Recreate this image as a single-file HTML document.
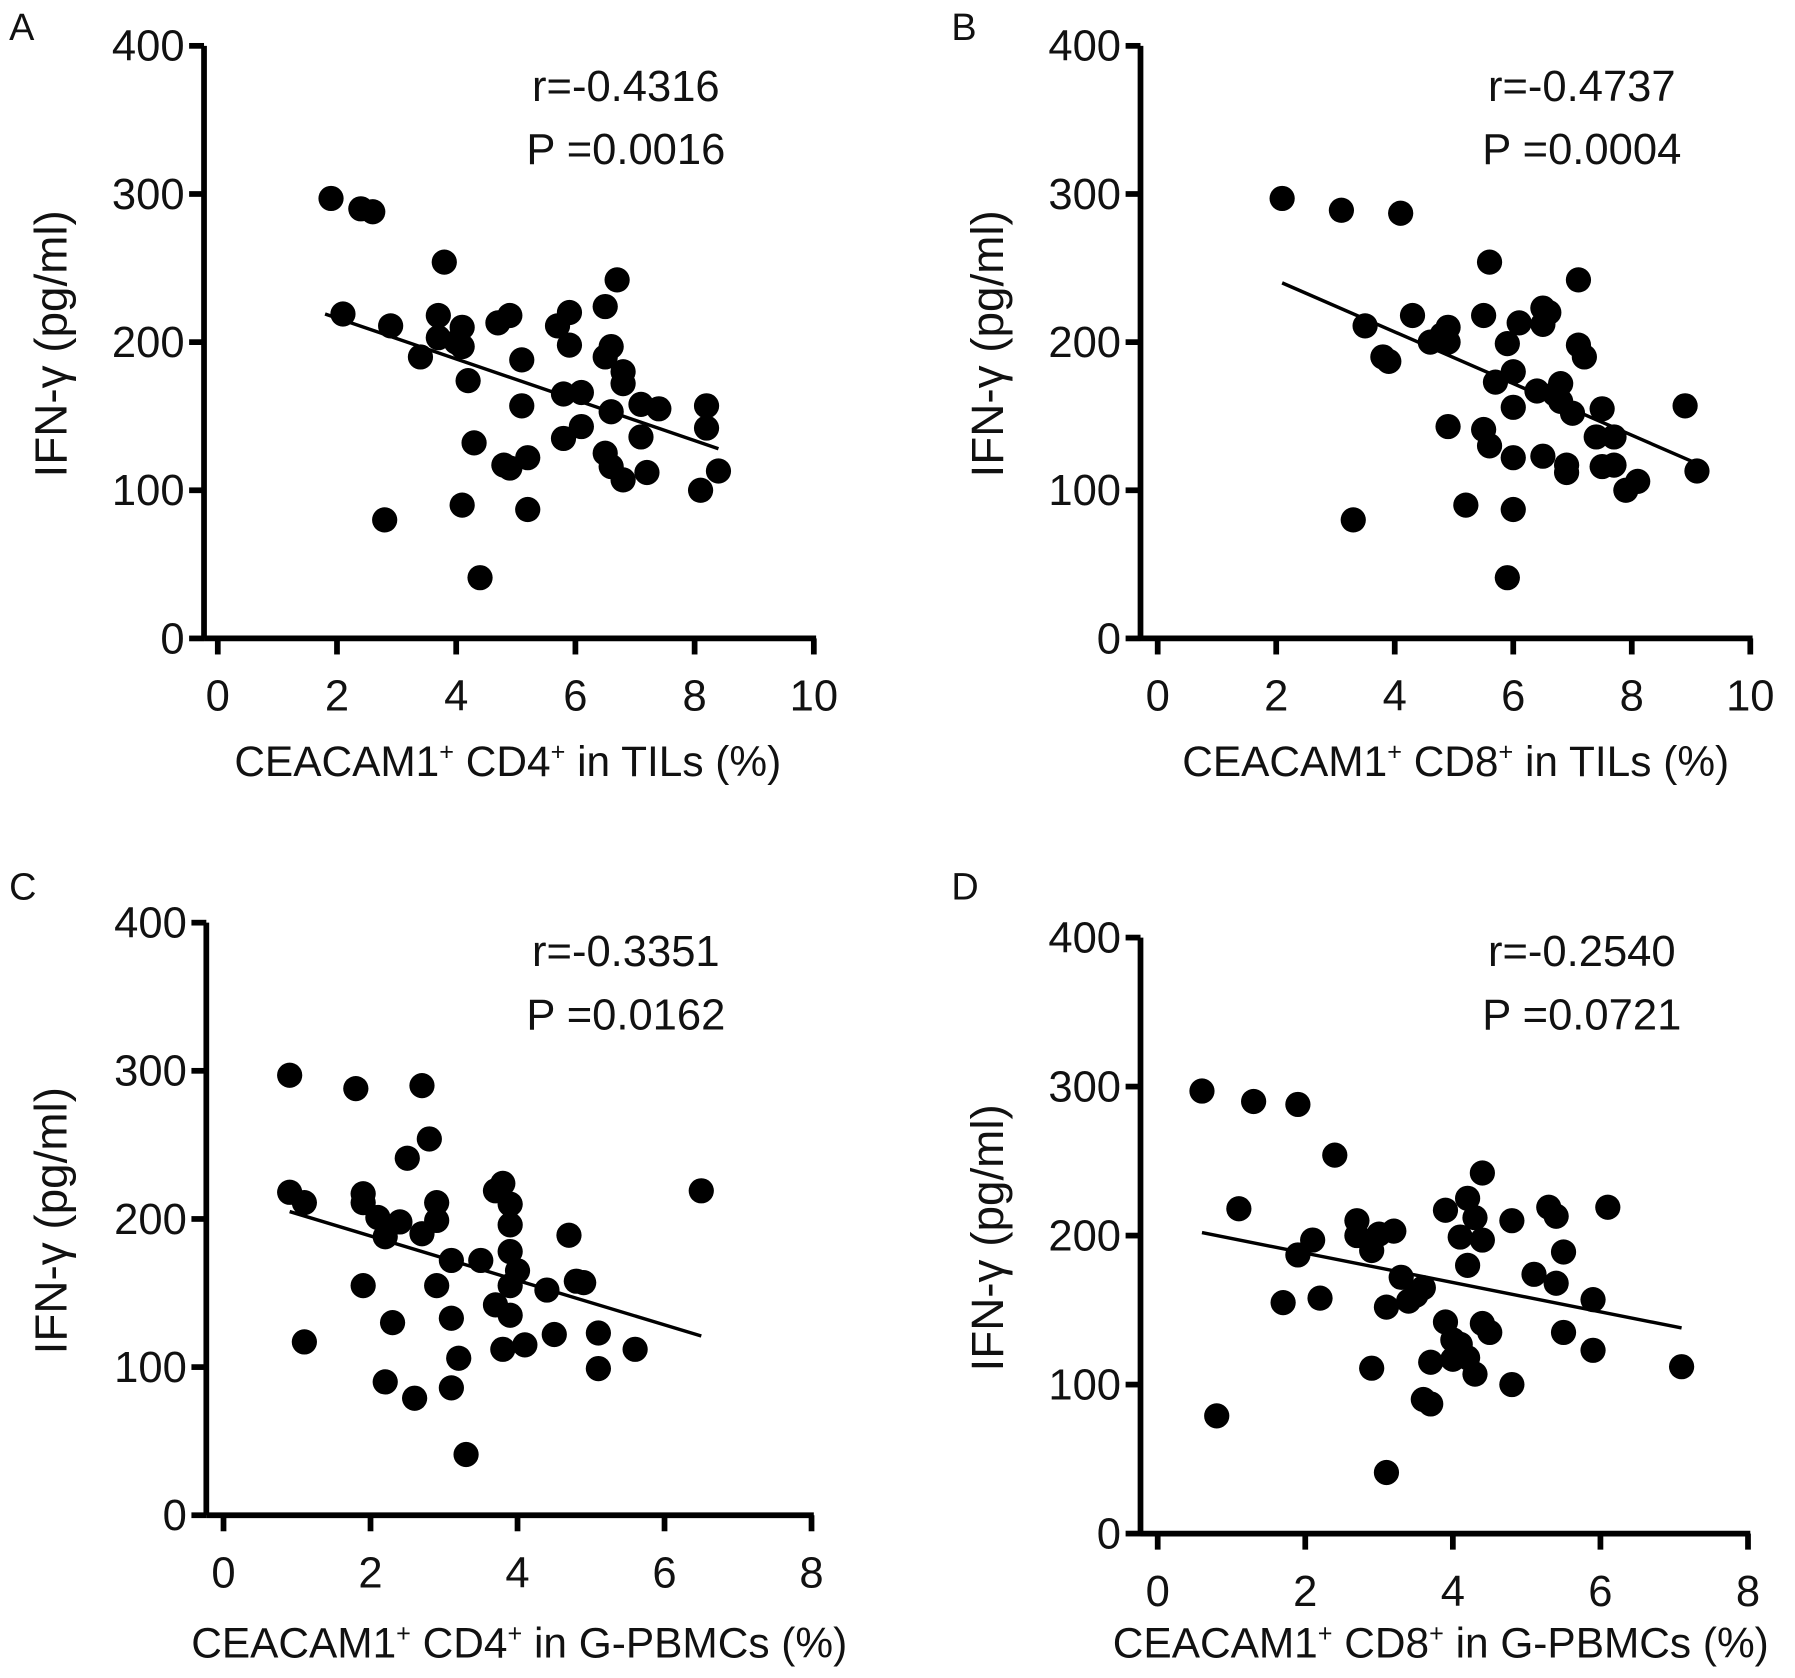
<!DOCTYPE html>
<html><head><meta charset="utf-8"><style>html,body{margin:0;padding:0;background:#fff}svg{display:block}text{font-family:"Liberation Sans",sans-serif;fill:#111}</style></head>
<body>
<svg id="fig" width="1795" height="1678" viewBox="0 0 1566 1464" preserveAspectRatio="none" xmlns="http://www.w3.org/2000/svg"></svg>
<script>
const yTicks=[0,100,200,300,400];
const xTicksTIL=[0,2,4,6,8,10];
const xTicksPB=[0,2,4,6,8];
const aX=[1.9,2.4,2.6,2.1,2.9,3.4,3.7,3.7,3.8,4.0,4.1,4.1,4.2,4.3,4.1,2.8,4.4,4.7,4.9,5.1,5.1,4.8,4.9,5.2,5.2,5.7,5.9,5.9,5.8,6.1,6.1,5.8,6.5,6.5,6.6,6.7,6.8,6.8,6.6,6.5,6.6,6.8,7.1,7.4,7.1,7.2,8.2,8.2,8.1,8.4];
const aY=[297,290,288,219,211,190,218,203,254,200,210,197,174,132,90,80,41,213,218,188,157,117,115,122,87,211,220,198,165,166,143,135,224,190,197,242,180,172,153,125,116,107,158,155,136,112,157,142,100,113];
const aLine=[[1.8,219],[8.4,128]];
const bX=[2.1,3.1,4.1,3.5,3.8,3.9,4.3,4.6,4.8,4.9,4.9,4.9,5.2,5.5,5.6,5.5,5.7,5.6,3.3,5.9,6.0,6.0,6.1,6.0,6.0,5.9,6.5,6.6,6.5,6.4,6.5,6.8,6.7,6.8,6.9,6.9,7.0,7.1,7.1,7.2,7.5,7.4,7.5,7.7,7.7,7.9,8.1,8.9,9.1];
const bY=[297,289,287,211,190,187,218,200,205,210,200,143,90,218,254,141,173,130,80,199,180,156,213,122,87,41,223,220,212,167,123,172,165,160,117,112,152,242,198,190,155,136,116,136,117,100,106,157,113];
const bLine=[[2.1,240],[9.1,118]];
const cX=[0.9,0.9,1.1,1.1,1.8,1.9,1.9,1.9,2.1,2.2,2.2,2.3,2.4,2.5,2.6,2.7,2.7,2.8,2.9,2.9,2.9,3.1,3.1,3.1,3.2,3.3,3.5,3.7,3.7,3.8,3.8,3.9,3.9,3.9,3.9,3.9,4.0,4.1,4.4,4.5,4.7,4.8,4.9,5.1,5.1,5.6,6.5];
const cY=[297,218,211,117,288,217,211,155,201,188,90,130,198,241,79,290,190,254,211,199,155,172,133,86,106,41,172,219,142,224,112,210,196,178,155,135,165,115,152,122,189,158,157,123,99,112,219];
const cLine=[[0.9,205],[6.5,121]];
const dX=[0.6,0.8,1.1,1.3,1.7,1.9,1.9,2.1,2.2,2.4,2.7,2.7,2.9,2.9,3.0,3.1,3.2,3.3,3.4,3.5,3.6,3.6,3.7,3.7,3.1,3.9,3.9,4.0,4.0,4.1,4.1,4.2,4.2,4.2,4.3,4.3,4.4,4.4,4.4,4.5,4.8,4.8,5.1,5.3,5.4,5.4,5.5,5.5,5.9,5.9,6.1,7.1];
const dY=[297,79,218,290,155,288,187,197,158,254,210,200,190,111,201,152,203,172,156,160,165,90,87,115,41,217,142,130,117,199,127,225,180,118,212,107,242,197,141,135,210,100,174,219,213,168,189,135,157,123,219,112];
const dLine=[[0.6,202],[7.1,138]];

const svg=document.getElementById('fig');
const NS='http://www.w3.org/2000/svg';
function mk(tag,attrs,parent){const e=document.createElementNS(NS,tag);for(const k in attrs)e.setAttribute(k,attrs[k]);parent.appendChild(e);return e;}

const panels=[
 {id:'a',letter:'A',lx:8,ly:35,ax:178,x0:190,x1:710,xmax:10,y0:557,y1:40,xt:xTicksTIL,X:aX,Y:aY,L:aLine,r:'r=-0.4316',p:'P =0.0016',tx:546,ty:75,title:['CEACAM1','+',' CD4','+',' in TILs (%)'],ttx:443,tty:677,ytx:45,yty:300},
 {id:'b',letter:'B',lx:830,ly:35,ax:995,x0:1010,x1:1527,xmax:10,y0:557,y1:40,xt:xTicksTIL,X:bX,Y:bY,L:bLine,r:'r=-0.4737',p:'P =0.0004',tx:1380,ty:75,title:['CEACAM1','+',' CD8','+',' in TILs (%)'],ttx:1270,tty:677,ytx:862,yty:300},
 {id:'c',letter:'C',lx:8,ly:785,ax:180,x0:195,x1:708,xmax:8,y0:1322,y1:805,xt:xTicksPB,X:cX,Y:cY,L:cLine,r:'r=-0.3351',p:'P =0.0162',tx:546,ty:830,title:['CEACAM1','+',' CD4','+',' in G-PBMCs (%)'],ttx:453,tty:1446,ytx:45,yty:1065},
 {id:'d',letter:'D',lx:830,ly:785,ax:995,x0:1010,x1:1525,xmax:8,y0:1338,y1:818,xt:xTicksPB,X:dX,Y:dY,L:dLine,r:'r=-0.2540',p:'P =0.0721',tx:1380,ty:830,title:['CEACAM1','+',' CD8','+',' in G-PBMCs (%)'],ttx:1257,tty:1446,ytx:862,yty:1080}
];

panels.forEach(P=>{
 const g=mk('g',{},svg);
 
 
 const sx=v=>P.x0+(P.x1-P.x0)*v/P.xmax;
 const sy=v=>P.y0+(P.y1-P.y0)*v/400;
 const lt=mk('text',{x:P.lx,y:P.ly,'font-size':33},g);lt.textContent=P.letter;
 
 const ya=mk('line',{x1:P.ax,y1:P.y1,x2:P.ax,y2:P.y0,stroke:'#000','stroke-width':5},g);
 
 const xa=mk('line',{x1:P.ax,y1:P.y0,x2:P.x1+2,y2:P.y0,stroke:'#000','stroke-width':5},g);
 
 yTicks.forEach(t=>{
  mk('line',{x1:P.ax-13,y1:sy(t),x2:P.ax,y2:sy(t),stroke:'#000','stroke-width':5},g);
  const tx=mk('text',{x:P.ax-17,y:sy(t)+13,'font-size':38,'text-anchor':'end'},g);tx.textContent=t;
  
 });
 P.xt.forEach(t=>{
  mk('line',{x1:sx(t),y1:P.y0,x2:sx(t),y2:P.y0+14,stroke:'#000','stroke-width':5},g);
  const tx=mk('text',{x:sx(t),y:P.y0+63,'font-size':38,'text-anchor':'middle'},g);tx.textContent=t;
  
 });
 const yt=mk('text',{x:0,y:0,'font-size':40,'text-anchor':'middle',transform:`translate(${P.ytx+13},${P.yty}) rotate(-90)`},g);
 yt.textContent='IFN-γ (pg/ml)';
 
 const xt=mk('text',{x:P.ttx,y:P.tty,'font-size':37,'text-anchor':'middle'},g);
 
 P.title.forEach((s,i)=>{const ts=mk('tspan',{},xt);if(s==='+'){ts.setAttribute('font-size',22);ts.setAttribute('dy',-14);}else if(i>0){ts.setAttribute('dy',14);}ts.textContent=s;});
 const rt=mk('text',{x:P.tx,y:P.ty+13,'font-size':38,'text-anchor':'middle'},g);rt.textContent=P.r;
 
 const pt=mk('text',{x:P.tx,y:P.ty+68,'font-size':38,'text-anchor':'middle'},g);pt.textContent=P.p;
 
 P.X.forEach((x,i)=>{
  const c=mk('circle',{cx:sx(x),cy:sy(P.Y[i]),r:11,fill:'#000'},g);
  
  
 });
 const fl=mk('line',{x1:sx(P.L[0][0]),y1:sy(P.L[0][1]),x2:sx(P.L[1][0]),y2:sy(P.L[1][1]),stroke:'#000','stroke-width':3},g);
 
 
});
</script>
</body></html>
